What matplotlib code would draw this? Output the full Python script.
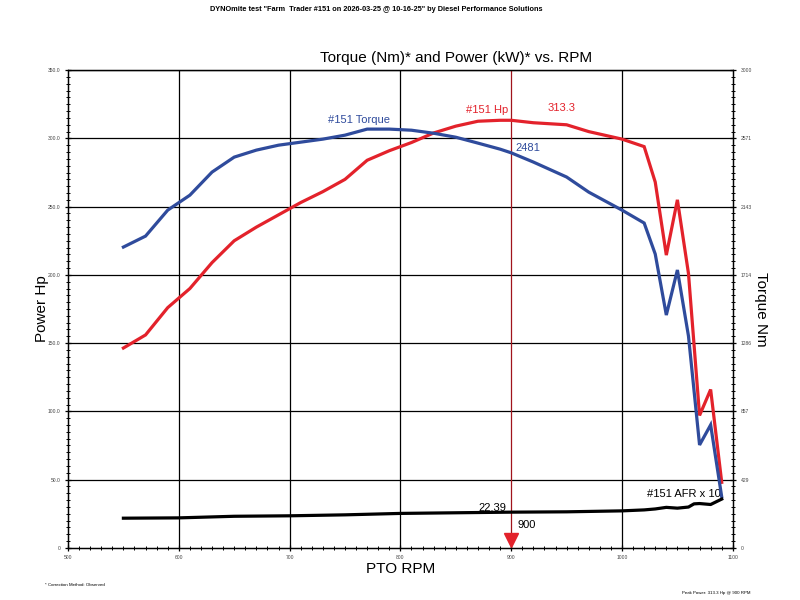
import matplotlib
matplotlib.use("Agg")
import matplotlib.pyplot as plt
from matplotlib.ticker import FixedLocator, MultipleLocator, FixedFormatter
from matplotlib.transforms import offset_copy

plt.rcParams['font.family'] = ['Liberation Sans', 'DejaVu Sans']

# ---- data ----
rpm = [550, 570, 590, 610, 630, 650, 670, 690, 710, 730, 750, 770, 790, 810,
       830, 850, 870, 890, 900, 920, 950, 970, 1000, 1020, 1030, 1040, 1050,
       1060, 1070, 1080, 1090]
power_hp = [146.4, 156, 176, 190, 209, 225, 235, 244, 253, 261, 270, 284, 291,
            297, 304, 309, 312.6, 313.3, 313.3, 311.5, 310, 305, 299.5, 294,
            268, 214.5, 255, 201, 97, 116, 48]
torque_nm = [1889, 1958, 2121, 2215, 2360, 2454, 2498, 2529, 2548, 2567, 2592,
             2630, 2630, 2623, 2604, 2579, 2542, 2504, 2481, 2423, 2329, 2234,
             2121, 2040, 1845, 1462, 1745, 1330, 646, 772, 320]
afr_rpm = [550, 600, 650, 700, 750, 800, 850, 900, 950, 1000, 1020, 1030,
           1040, 1050, 1060, 1065, 1070, 1080, 1090]
afr = [18.6, 18.8, 19.8, 20.1, 20.7, 21.6, 22.0, 22.39, 22.6, 23.2, 23.8,
       24.4, 25.4, 24.9, 25.6, 27.6, 27.8, 27.2, 30.6]
afr_scale = 10

peak_rpm = 900
peak_hp = 313.3
peak_torque = 2481
peak_afr = 22.39

x_ticks = [500, 600, 700, 800, 900, 1000, 1100]
hp_ticks = [0, 50, 100, 150, 200, 250, 300, 350]
hp_labels = ['0', '50.0', '100.0', '150.0', '200.0', '250.0', '300.0', '350.0']
nm_labels = ['0', '429', '857', '1286', '1714', '2143', '2571', '3000']

RED = '#e3222b'
BLUE = '#2f4b9c'

fig = plt.figure(figsize=(8, 6), dpi=100)
ax = fig.add_axes([0.085, 0.087, 0.831, 0.796])
ax2 = ax.twinx()

ax.set_xlim(500, 1100)
ax.set_ylim(0, 350)
ax2.set_ylim(0, 3000)

# grid
for v in hp_ticks[1:]:
    ax.axhline(v, color='black', lw=0.9, zorder=1)
for v in x_ticks[1:-1]:
    if v == peak_rpm:
        ax.axvline(v, color='#a0141c', lw=0.9, zorder=1)
    else:
        ax.axvline(v, color='black', lw=0.9, zorder=1)

ax.plot(rpm, power_hp, color=RED, lw=2.3, zorder=3, solid_joinstyle='miter')
ax2.plot(rpm, torque_nm, color=BLUE, lw=2.3, zorder=3, solid_joinstyle='miter')
ax2.plot(afr_rpm, [a * afr_scale for a in afr], color='black', lw=2.3, zorder=3)

# peak marker
trans = offset_copy(ax.transData, fig=fig, x=0, y=5.5, units='points')
ax.plot([peak_rpm], [0], marker='v', color=RED, markersize=10, transform=trans,
        clip_on=False, zorder=5, linestyle='none')

# ticks
ax.xaxis.set_major_locator(FixedLocator(x_ticks))
ax.xaxis.set_minor_locator(MultipleLocator(10))
ax.yaxis.set_major_locator(FixedLocator(hp_ticks))
ax.yaxis.set_major_formatter(FixedFormatter(hp_labels))
ax.yaxis.set_minor_locator(MultipleLocator(5))
nm_pos = [i * 3000 / 7 for i in range(8)]
ax2.yaxis.set_major_locator(FixedLocator(nm_pos))
ax2.yaxis.set_major_formatter(FixedFormatter(nm_labels))
ax2.yaxis.set_minor_locator(MultipleLocator(3000 / 70))

for a in (ax, ax2):
    a.tick_params(which='major', direction='inout', length=5, width=0.9,
                  labelsize=3.6, labelcolor='#444444', pad=3)
    a.tick_params(which='minor', direction='inout', length=3, width=0.7)
ax.tick_params(axis='y', right=False)
ax.tick_params(axis='x', top=False)
for s in ('left', 'right', 'bottom', 'top'):
    ax.spines[s].set_linewidth(0.9)
    ax2.spines[s].set_linewidth(0.9)

ax.set_xlabel('PTO RPM', fontsize=11, labelpad=1)
ax.set_ylabel('Power Hp', fontsize=11, labelpad=-1)
ax2.set_ylabel('Torque Nm', fontsize=11, rotation=-90, labelpad=12)

# annotations
ax.text(735, 313.5, '#151 Torque', color=BLUE, fontsize=8, va='center', ha='left')
ax.text(859, 320.5, '#151 Hp', color=RED, fontsize=8, va='center', ha='left')
ax.text(933, 322.5, f'{peak_hp}', color=RED, fontsize=8, va='center', ha='left')
ax.text(904, 293, f'{peak_torque}', color=BLUE, fontsize=8, va='center', ha='left')
ax.text(870, 29.5, f'{peak_afr}', color='black', fontsize=8, va='center', ha='left')
ax.text(906, 17, f'{peak_rpm}', color='black', fontsize=8, va='center', ha='left')
ax.text(1023, 39.5, '#151 AFR x 10', color='black', fontsize=8, va='center', ha='left')

fig.text(0.47, 0.990, 'DYNOmite test "Farm  Trader #151 on 2026-03-25 @ 10-16-25" by Diesel Performance Solutions',
         fontsize=5.3, fontweight='bold', ha='center', va='top')
fig.text(0.57, 0.903, 'Torque (Nm)* and Power (kW)* vs. RPM', fontsize=11, ha='center', va='center')
fig.text(0.056, 0.025, '* Correction Method: Observed', fontsize=3.2, ha='left', va='center')
fig.text(0.938, 0.012, f'Peak Power: {peak_hp} Hp @ {peak_rpm} RPM', fontsize=3.2, ha='right', va='center')

fig.savefig('out.png', dpi=100)
